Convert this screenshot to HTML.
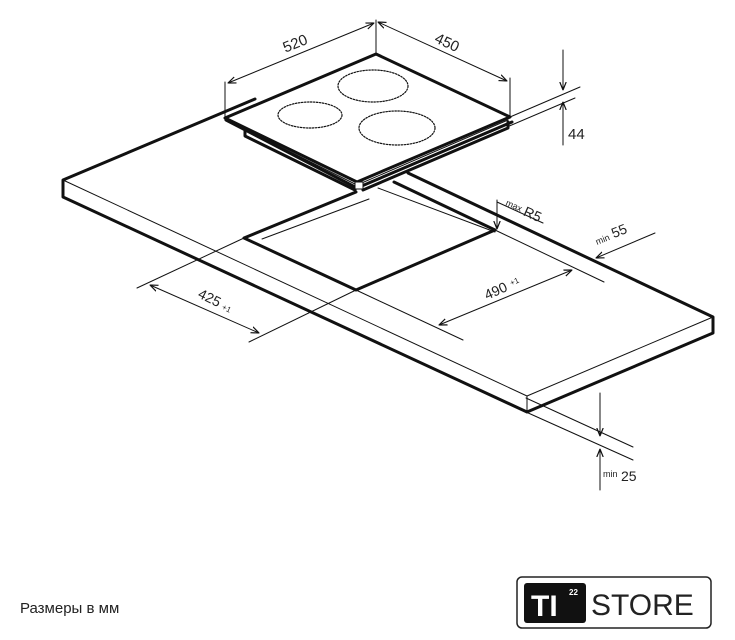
<!DOCTYPE html>
<html><head><meta charset="utf-8"><style>
body{margin:0;background:#fff;width:735px;height:640px;overflow:hidden}
svg{display:block}
text{font-family:"Liberation Sans",sans-serif;fill:#222}
</style></head><body>
<svg width="735" height="640" viewBox="0 0 735 640">
<defs>
<marker id="a" viewBox="0 0 10 10" refX="10" refY="5" markerWidth="8" markerHeight="8" orient="auto-start-reverse"><path d="M0,1 L10,5 L0,9" fill="none" stroke="#111" stroke-width="1.5"/></marker>
</defs>
<g stroke="#111" fill="none" stroke-linecap="round" stroke-linejoin="round">
<!-- countertop -->
<polyline points="255,99 63,180 63,197 527,412 713,333 713,317 408,173" stroke-width="3" fill="#fff"/>
<line x1="63" y1="180" x2="527" y2="396" stroke-width="1"/>
<line x1="527" y1="396" x2="713" y2="317" stroke-width="1"/>
<line x1="527" y1="396" x2="527" y2="412" stroke-width="1"/>
<line x1="394" y1="182" x2="495" y2="230" stroke-width="3"/>
<!-- cutout -->
<polyline points="356,192 244,238 356,290 495,230" stroke-width="3"/>
<line x1="262" y1="239" x2="369" y2="199" stroke-width="1"/>
<line x1="378" y1="188" x2="495" y2="232" stroke-width="1"/>
<!-- hob -->
<polyline points="245,128 245,136 355,190" stroke-width="3"/>
<polygon points="376,54 225,118 357,182 510,117" fill="#fff" stroke-width="3"/>
<polyline points="228,121 357,185 508,120" stroke-width="1"/>
<polyline points="226,120 357,188 512,122" stroke-width="3"/>
<rect x="355" y="182" width="8" height="7" stroke-width="1" fill="#fff"/>
<polyline points="508,122 508,128 363,190" stroke-width="3"/>
<g stroke-dasharray="1.5,1.5" stroke-width="1.2">
<ellipse cx="310" cy="115" rx="32" ry="13"/>
<ellipse cx="373" cy="86" rx="35" ry="16"/>
<ellipse cx="397" cy="128" rx="38" ry="17"/>
</g>
<!-- dims -->
<g stroke-width="1">
<line x1="225" y1="82" x2="225" y2="118"/>
<line x1="376" y1="20" x2="376" y2="54"/>
<line x1="510" y1="78" x2="510" y2="117"/>
<line x1="228" y1="83" x2="374" y2="23" marker-start="url(#a)" marker-end="url(#a)"/>
<line x1="378" y1="22" x2="507" y2="81" marker-start="url(#a)" marker-end="url(#a)"/>
<line x1="510" y1="117" x2="580" y2="87"/>
<line x1="507" y1="127" x2="575" y2="98"/>
<line x1="563" y1="50" x2="563" y2="90" marker-end="url(#a)"/>
<line x1="563" y1="145" x2="563" y2="102" marker-end="url(#a)"/>
<line x1="497" y1="200" x2="497" y2="229" marker-end="url(#a)"/>
<line x1="497" y1="202" x2="543" y2="223"/>
<line x1="655" y1="233" x2="596" y2="258" marker-end="url(#a)"/>
<line x1="356" y1="290" x2="463" y2="340"/>
<line x1="495" y1="230" x2="604" y2="282"/>
<line x1="439" y1="325" x2="572" y2="270" marker-start="url(#a)" marker-end="url(#a)"/>
<line x1="137" y1="288" x2="244" y2="238"/>
<line x1="249" y1="342" x2="356" y2="290"/>
<line x1="150" y1="285" x2="259" y2="333" marker-start="url(#a)" marker-end="url(#a)"/>
<line x1="526" y1="398" x2="633" y2="447"/>
<line x1="526" y1="412" x2="633" y2="460"/>
<line x1="600" y1="393" x2="600" y2="436" marker-end="url(#a)"/>
<line x1="600" y1="490" x2="600" y2="449" marker-end="url(#a)"/>
</g>
</g>
<text x="297" y="48" font-size="15" text-anchor="middle" transform="rotate(-22 297 48)">520</text>
<text x="445" y="47" font-size="15" text-anchor="middle" transform="rotate(25 445 47)">450</text>
<text x="568" y="139" font-size="15">44</text>
<g transform="rotate(24 505 205)"><text x="505" y="205" font-size="9">max</text><text x="525" y="207" font-size="14">R5</text></g>
<g transform="rotate(-22 597 245)"><text x="597" y="245" font-size="9">min</text><text x="615" y="245" font-size="14">55</text></g>
<g transform="rotate(-24 487 300)"><text x="487" y="300" font-size="14">490</text><text x="515" y="297" font-size="8">+1</text></g>
<g transform="rotate(26 197 297)"><text x="197" y="297" font-size="14">425</text><text x="224" y="297" font-size="8">+1</text></g>
<text x="603" y="477" font-size="9">min</text><text x="621" y="481" font-size="14">25</text>
<text x="20" y="613" font-size="15">Размеры в мм</text>
<rect x="517" y="577" width="194" height="51" rx="5" fill="none" stroke="#222" stroke-width="1.5"/>
<rect x="524" y="583" width="62" height="40" rx="3" fill="#111"/>
<text x="531" y="616" font-size="30" font-weight="bold" style="fill:#fff">TI</text>
<text x="569" y="595" font-size="8" style="fill:#fff" font-weight="bold">22</text>
<text x="591" y="615" font-size="30">STORE</text>
</svg>
</body></html>
